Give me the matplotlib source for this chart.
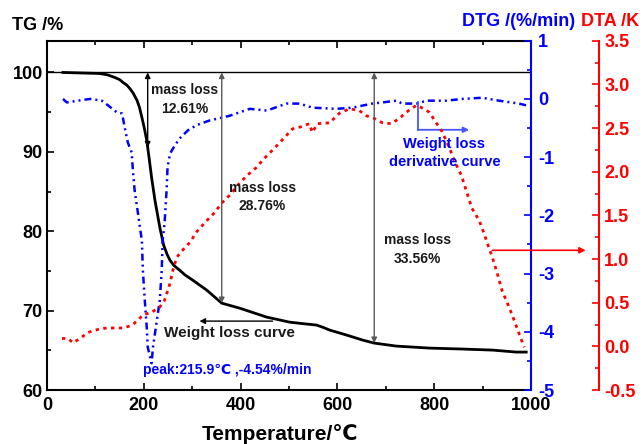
import numpy as np
import matplotlib.pyplot as plt
from matplotlib.ticker import MultipleLocator, FormatStrFormatter

plt.rcParams['font.family'] = ['Liberation Sans', 'DejaVu Sans']
plt.rcParams['font.weight'] = 'bold'
plt.rcParams['axes.unicode_minus'] = False

# TG curve (%)
tg_temp = [33, 109, 125, 140, 150, 157, 165, 171, 178, 186, 191, 196, 201, 206, 211, 216, 223,
           233, 241, 248, 254, 262, 274, 285, 301, 330, 361, 398, 454, 501, 530, 557, 570, 584,
           619, 652, 676, 722, 790, 858, 920, 969, 990]
tg_val = [100.0, 99.87, 99.7, 99.37, 99.1, 98.74, 98.4, 97.99, 97.4, 96.48, 95.6, 94.34, 93.0,
          91.45, 89.2, 86.79, 83.9, 80.5, 78.24, 77.1, 76.35, 75.7, 75.09, 74.5, 73.84, 72.58,
          70.94, 70.31, 69.18, 68.55, 68.35, 68.18, 67.9, 67.55, 66.92, 66.29, 65.91, 65.53,
          65.28, 65.16, 65.03, 64.78, 64.78]

# DTG curve (%/min)
dtg_temp = [33, 41, 64, 89, 113, 126, 144, 155, 161, 167, 175, 177, 181, 188, 192, 196, 198, 202,
            206, 208, 216, 219, 227, 233, 237, 239, 243, 247, 249, 254, 264, 274, 291, 309, 336,
            377, 419, 454, 495, 522, 548, 598, 631, 672, 693, 722, 734, 763, 784, 825, 858, 899,
            934, 975, 990]
dtg_val = [0.0, -0.06, -0.03, 0.0, -0.03, -0.11, -0.23, -0.25, -0.51, -0.75, -0.92, -1.18, -1.57,
           -1.97, -2.21, -2.43, -2.94, -3.46, -3.92, -4.26, -4.54, -4.26, -3.8, -3.46, -2.94, -2.43,
           -2.12, -1.57, -1.18, -0.94, -0.8, -0.68, -0.54, -0.45, -0.37, -0.29, -0.17, -0.2, -0.08,
           -0.08, -0.15, -0.17, -0.15, -0.08, -0.06, -0.03, -0.08, -0.08, -0.03, -0.03, 0.0, 0.02,
           -0.03, -0.08, -0.11]

# DTA curve (K)
dta_temp = [31, 43, 54, 68, 85, 109, 124, 140, 157, 175, 188, 198, 216, 233, 243, 254, 260, 268,
            280, 295, 309, 330, 346, 361, 377, 398, 414, 433, 445, 470, 487, 507, 522, 542, 548,
            559, 584, 604, 625, 645, 660, 676, 693, 711, 728, 742, 763, 775, 790, 804, 816, 831,
            841, 856, 868, 878, 893, 903, 913, 920, 930, 940, 950, 961, 971, 979, 986]
dta_val = [0.09, 0.09, 0.04, 0.09, 0.16, 0.2, 0.21, 0.21, 0.21, 0.24, 0.3, 0.36, 0.39, 0.45, 0.53,
           0.72, 0.87, 1.02, 1.1, 1.19, 1.31, 1.44, 1.53, 1.64, 1.73, 1.87, 1.96, 2.05, 2.13, 2.27,
           2.37, 2.49, 2.51, 2.55, 2.45, 2.55, 2.56, 2.67, 2.72, 2.7, 2.64, 2.61, 2.56, 2.55, 2.61,
           2.68, 2.76, 2.73, 2.68, 2.56, 2.46, 2.28, 2.13, 1.96, 1.75, 1.58, 1.44, 1.29, 1.13, 1.02,
           0.84, 0.64, 0.51, 0.36, 0.21, 0.09, -0.01]

# mass loss marks
loss_temp = [208, 361, 676]
loss_text = ['mass loss\n12.61%', 'mass loss\n28.76%', 'mass loss\n33.56%']
loss_text_pos = [(285, 96.6), (445, 84.3), (765, 77.7)]
loss_color = ['k', '0.35', '0.35']

fig = plt.figure(figsize=(6.44, 4.44), dpi=100)
ax = fig.add_axes([0.073, 0.1216, 0.7516, 0.7867])
ax2 = ax.twinx()
ax3 = ax.twinx()

ax.plot(tg_temp, tg_val, color='k', lw=2, zorder=3)
ax.axhline(100, color='k', lw=1)
ax2.plot(dtg_temp, dtg_val, color='blue', lw=1.8, dashes=(2.8, 1.6, 0.8, 1.6, 0.8, 1.6))
ax3.plot(dta_temp, dta_val, color='red', lw=2, dashes=(1.2, 1.6))

ax.set_xlim(0, 1000)
ax.set_ylim(60, 104)
ax2.set_ylim(-5, 1)
ax3.set_ylim(-0.5, 3.5)

ax.xaxis.set_major_locator(MultipleLocator(200))
ax.xaxis.set_minor_locator(MultipleLocator(100))
ax.yaxis.set_major_locator(MultipleLocator(10))
ax.yaxis.set_minor_locator(MultipleLocator(5))
ax2.yaxis.set_major_locator(MultipleLocator(1))
ax2.yaxis.set_minor_locator(MultipleLocator(0.5))
ax3.yaxis.set_major_locator(MultipleLocator(0.5))
ax3.yaxis.set_minor_locator(MultipleLocator(0.25))
ax3.yaxis.set_major_formatter(FormatStrFormatter('%.1f'))

for a in [ax, ax2, ax3]:
    for s in a.spines.values():
        s.set_linewidth(1.5)
ax.spines['right'].set_visible(False)
for a in [ax2, ax3]:
    for side in ['left', 'top', 'bottom']:
        a.spines[side].set_visible(False)
ax2.spines['right'].set_color('blue')
ax3.spines['right'].set_color('red')
ax3.spines['right'].set_position(('axes', 1.14))

ax.tick_params(axis='both', which='both', direction='in', top=True, right=False, width=1.2,
               labelsize=13)
ax.tick_params(which='major', length=5)
ax.tick_params(which='minor', length=3)
ax.tick_params(axis='x', pad=5)
ax.tick_params(axis='y', pad=3)
ax2.tick_params(axis='y', which='both', direction='in', colors='blue', width=1.2, labelsize=13, pad=5)
ax2.tick_params(axis='y', which='major', length=5)
ax2.tick_params(axis='y', which='minor', length=3)
ax3.tick_params(axis='y', which='both', direction='in', colors='red', width=1.2, labelsize=13, pad=4)
ax3.tick_params(axis='y', which='major', length=5)
ax3.tick_params(axis='y', which='minor', length=3)

# axis titles
fig.text(12 / 644, 1 - 25 / 444, 'TG /%', fontsize=13, ha='left', va='center')
fig.text(575 / 644, 1 - 21 / 444, 'DTG /(%/min)', fontsize=13, ha='right', va='center', color='blue')
fig.text(581 / 644, 1 - 21 / 444, 'DTA /K', fontsize=13, ha='left', va='center', color='red')
fig.text(280 / 644, 1 - 434 / 444, 'Temperature/℃', fontsize=15, ha='center', va='center')

# mass loss arrows and labels
for t, txt, pos, c in zip(loss_temp, loss_text, loss_text_pos, loss_color):
    yv = np.interp(t, tg_temp, tg_val)
    ax3.annotate('', xy=(t, yv), xytext=(t, 100), xycoords=ax.transData, textcoords=ax.transData,
                 arrowprops=dict(arrowstyle='<|-|>', color=c, lw=1, mutation_scale=8,
                                 shrinkA=0, shrinkB=0))
    ax3.text(pos[0], pos[1], txt, transform=ax.transData, fontsize=10, ha='center', va='center',
             linespacing=1.4, color='0.1')

# weight loss curve label
ax3.annotate('', xy=(315, 68.68), xytext=(466, 68.68), xycoords=ax.transData,
             textcoords=ax.transData,
             arrowprops=dict(arrowstyle='-|>', color='k', lw=1, mutation_scale=8,
                             shrinkA=0, shrinkB=0))
ax3.text(376, 67.2, 'Weight loss curve', transform=ax.transData, fontsize=11, ha='center',
         va='center', color='0.1')

# DTG peak label
ax3.text(372, 62.5, 'peak:215.9℃ ,-4.54%/min', transform=ax.transData, fontsize=10,
         ha='center', va='center', color='blue')

# derivative curve label
ax2.plot([767, 767], [-0.06, -0.53], color='#4455ff', lw=1.3)
ax2.annotate('', xy=(872, -0.53), xytext=(767, -0.53),
             arrowprops=dict(arrowstyle='-|>', color='#4455ff', lw=1.3, mutation_scale=8,
                             shrinkA=0, shrinkB=0))
ax3.text(821, 89.87, 'Weight loss\nderivative curve', transform=ax.transData, fontsize=10.5,
         ha='center', va='center', linespacing=1.3, color='blue')

# DTA pointer
ax3.annotate('', xy=(1.113, 1.1), xycoords=('axes fraction', 'data'), xytext=(920, 1.1),
             textcoords='data', annotation_clip=False,
             arrowprops=dict(arrowstyle='-|>', color='red', lw=1.2, mutation_scale=9,
                             shrinkA=0, shrinkB=0))

fig.savefig('out.png', dpi=100)
